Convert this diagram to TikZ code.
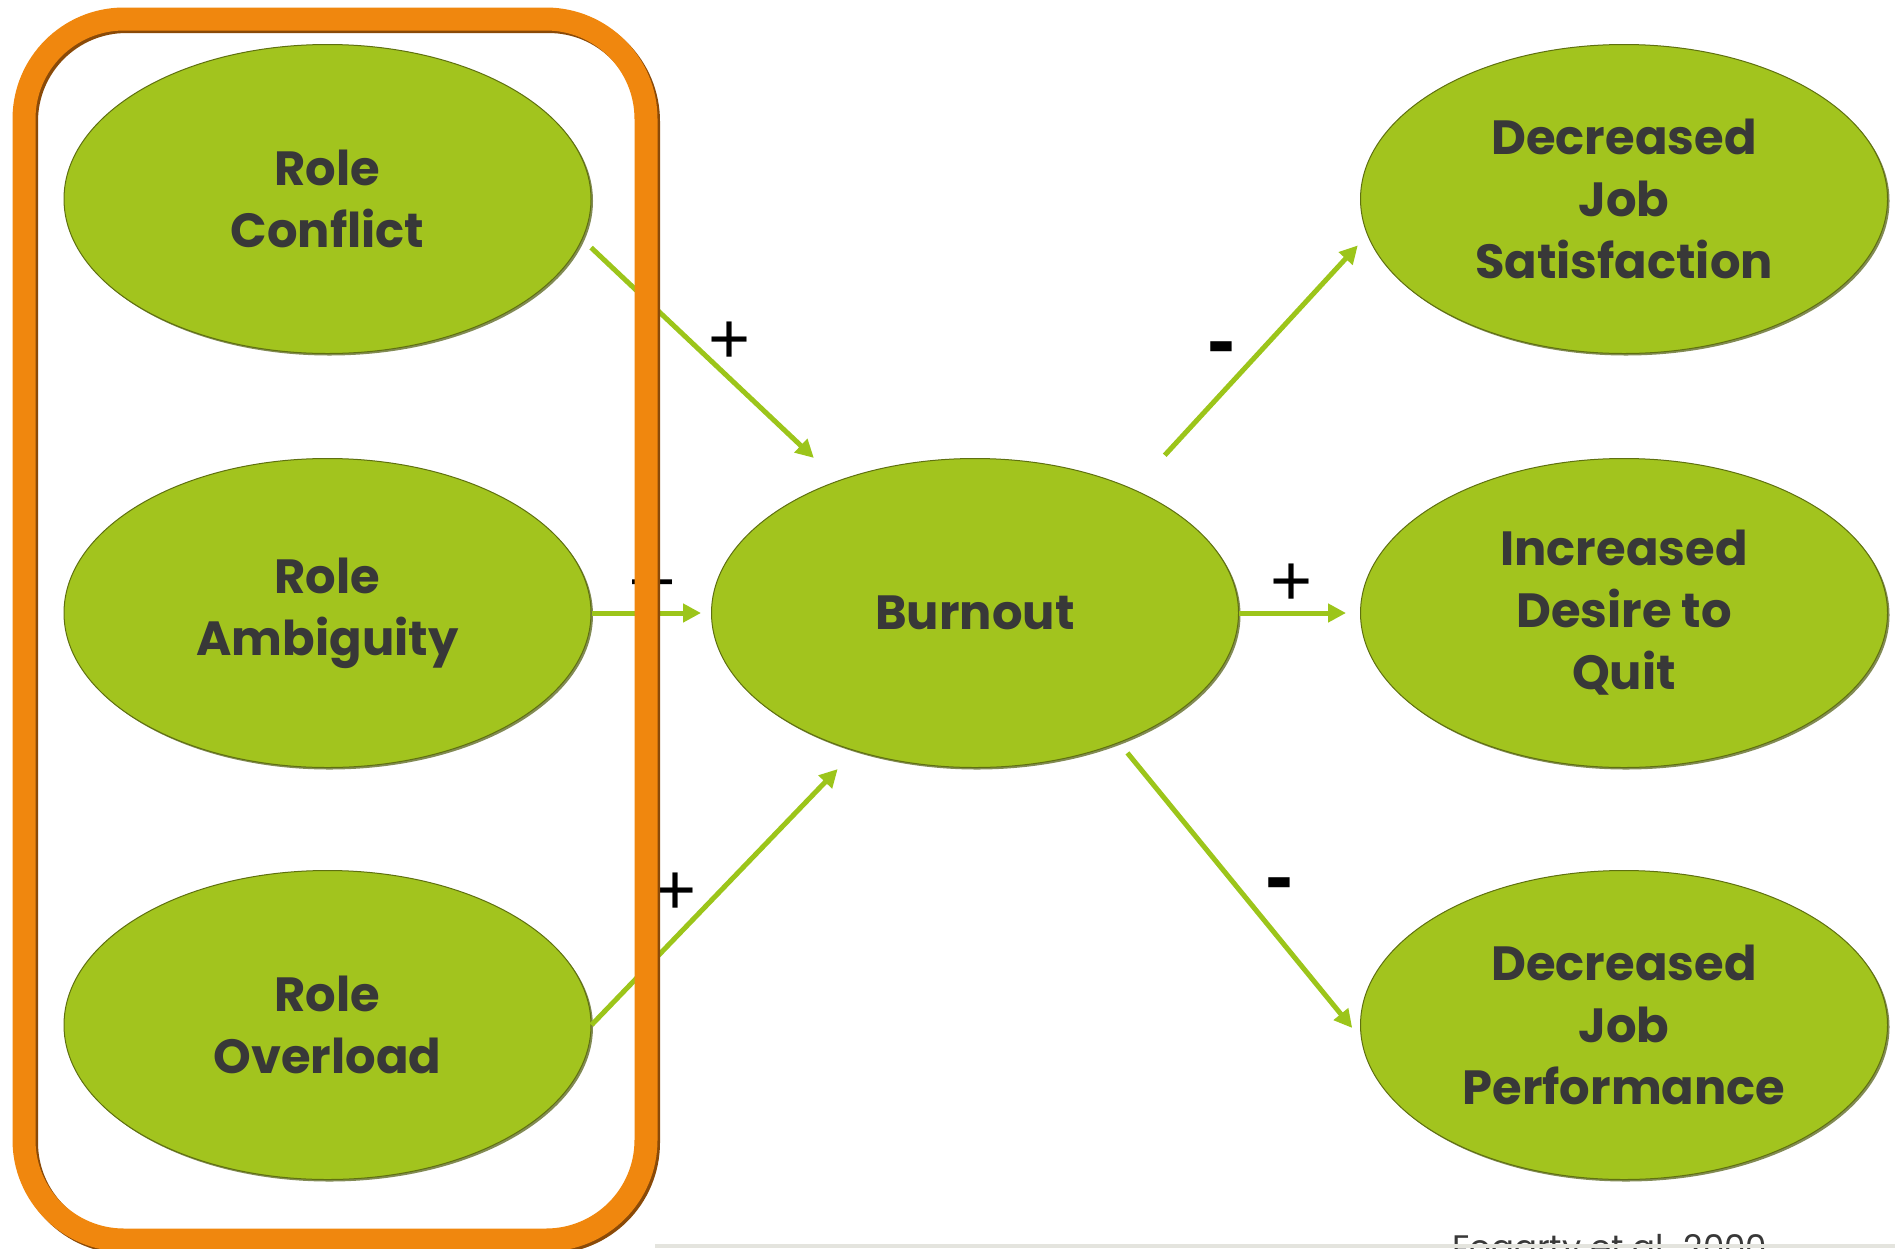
\documentclass[tikz,border=0pt]{standalone}
\usepackage{fontspec}
\setmainfont{Poppins}
\newfontfamily\labfont{Liberation Sans}
\usetikzlibrary{shapes.geometric,arrows.meta,shadows}
\definecolor{leaf}{HTML}{A2C41E}
\definecolor{leafedge}{HTML}{5F7010}
\definecolor{leafshade}{HTML}{4E5A0C}
\definecolor{arrowgreen}{HTML}{9CC51A}
\definecolor{frameorange}{HTML}{F0870E}
\definecolor{frameshade}{HTML}{8A4A08}
\definecolor{textgray}{HTML}{383838}
\definecolor{bandgray}{HTML}{E4E4DE}
\begin{document}
\begin{tikzpicture}[x=1pt,y=-1pt,
  bubble/.style={ellipse, fill=leaf, draw=leafedge, line width=1pt,
    minimum width=527pt, minimum height=309pt, inner sep=0pt, align=center,
    text=textgray, font=\fontsize{48}{62}\selectfont\bfseries,
    drop shadow={shadow xshift=2pt, shadow yshift=-2pt, fill=leafshade, opacity=0.7}},
  link/.style={draw=arrowgreen, line width=5pt, -{Triangle[length=18pt,width=18pt]}},
  sign/.style={font=\labfont\fontsize{72}{72}\selectfont, text=black, inner sep=0pt},
  boldsign/.style={font=\labfont\bfseries\fontsize{84}{84}\selectfont, text=black, inner sep=0pt},
  frame/.style={draw=frameorange, line width=23pt, rounded corners=100pt},
  frameback/.style={draw=frameshade, line width=23pt, rounded corners=100pt}
]
\useasboundingbox (0,0) rectangle (1895,1248);
\fill[white] (0,0) rectangle (1895,1248);

% bubbles
\node[bubble] (rc)  at (327.5,199)  {Role\\Conflict};
\node[bubble] (ra)  at (327.5,613)  {Role\\Ambiguity};
\node[bubble] (ro)  at (327.5,1025) {Role\\Overload};
\node[bubble] (bo)  at (975,613)    {Burnout};
\node[bubble] (djs) at (1624,199)   {Decreased\\Job\\Satisfaction};
\node[bubble] (ida) at (1624,613)   {Increased\\Desire to\\Quit};
\node[bubble] (djp) at (1624,1025)  {Decreased\\Job\\Performance};

% connectors
\draw[link, shorten <=12pt, shorten >=33pt] (rc.-9) -- (bo.136);
\draw[link, shorten >=10pt] (ra.east) -- (bo.west);
\draw[link, shorten >=25pt] (ro.east) -- (bo.-131.7);
\draw[link, shorten <=46pt, shorten >=14pt] (bo.38.7) -- (djs.188);
\draw[link, shorten >=14pt] (bo.east) -- (ida.west);
\draw[link, shorten <=13pt, shorten >=14pt] (bo.-42.8) -- (djp.183.5);

% signs
\node[sign] (s1) at (730,343) {+};
\node[sign] (s2) at (653,590) {–};
\node[sign] (s3) at (676,894) {+};
\node[boldsign] (s4) at (1221.5,355) {-};
\node[sign] (s5) at (1291.5,585) {+};
\node[boldsign] (s6) at (1279.5,891) {-};

% orange frame
\draw[frameback] (26.5,21.5) rectangle (648.5,1242.5);
\draw[frame] (24,19) rectangle (646,1240);

% citation
\node[anchor=north west, inner sep=0pt, text=textgray, font=\fontsize{34}{34}\selectfont] (cite) at (1452,1234) {Fogarty et al. 2000};
\fill[bandgray] (655,1244) rectangle (1895,1248);
\end{tikzpicture}
\end{document}
